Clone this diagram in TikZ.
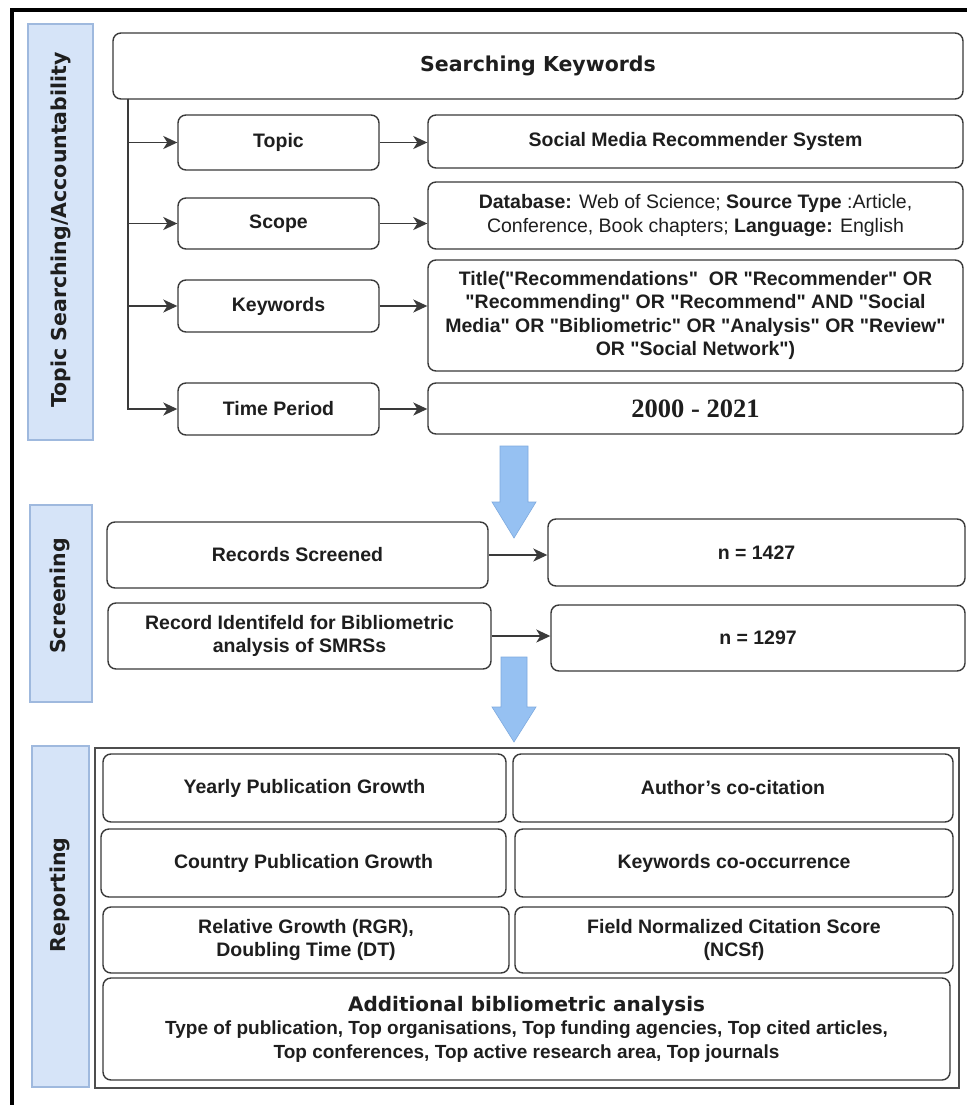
\documentclass[tikz,border=0pt]{standalone}
\usepackage{fontspec}
\setmainfont{Liberation Sans}[Ligatures=TeXOff]
\newfontfamily\dejavu{DejaVu Sans}
\newfontfamily\timesf{Liberation Serif}
\usetikzlibrary{arrows.meta}
\definecolor{sidefill}{HTML}{D6E4F8}
\definecolor{sideborder}{HTML}{9FB9DE}
\definecolor{arrowblue}{HTML}{96C1F2}
\definecolor{arrowborder}{HTML}{7EAADF}
\definecolor{boxline}{HTML}{3A3A3A}
\definecolor{txt}{HTML}{1E1E1E}
% #1 extra options, #2 name, #3 x1, #4 y1, #5 x2, #6 y2, #7 text
\newcommand\rbx[7][]{%
  \node[rbox,minimum width={(#5-#3)*1pt},minimum height={(#6-#4)*1pt},#1] (#2) at ({(#3+#5)/2},{(#4+#6)/2}) {#7};}
\newcommand\sbx[5]{%
  \node[side,minimum width={(#4-#2)*1pt},minimum height={(#5-#3)*1pt}] (#1) at ({(#2+#4)/2},{(#3+#5)/2}) {};}
\tikzset{
 rbox/.style={draw=boxline, line width=1.4pt, rounded corners=8pt, fill=white, inner sep=0pt,
   align=center, text=txt, font=\bfseries\fontsize{19.5}{23.5}\selectfont},
 side/.style={draw=sideborder, fill=sidefill, line width=1.2pt, inner sep=0pt},
 sidetext/.style={rotate=90, text=txt, font=\dejavu\bfseries\fontsize{20.5}{20.5}\selectfont},
 con/.style={draw=boxline, line width=1.6pt, arrows={-Stealth[length=14pt,width=13pt,inset=4pt]}},
 bigarrow/.style={fill=arrowblue, draw=arrowborder, line width=0.6pt}
}
\begin{document}
\begin{tikzpicture}[x=1pt,y=-1pt]
\useasboundingbox (0,0) rectangle (967,1105);
\fill[white] (0,0) rectangle (967,1105);
% outer frame (top and left only)
\draw[line width=4.5pt, black] (12,1105) -- (12,10) -- (967,10);

% sidebars
\sbx{s1}{28}{24}{93}{440}
\node[sidetext] (s1t) at (61,230) {Topic Searching/Accountability};
\sbx{s2}{30}{505}{92}{702}
\node[sidetext] (s2t) at (60,596) {Screening};
\sbx{s3}{32}{746}{89}{1087}
\node[sidetext] (s3t) at (60,895) {Reporting};

% Searching keywords
\rbx[font=\dejavu\bfseries\fontsize{20.5}{24}\selectfont]{sk}{113}{33}{963}{99}{Searching Keywords}

% left column
\rbx{tl}{178}{115}{379}{170}{Topic}
\rbx{sl}{178}{198}{379}{249}{Scope}
\rbx{kl}{178}{280}{379}{332}{Keywords}
\rbx{pl}{178}{383}{379}{435}{Time Period}

% right column
\rbx{tr}{428}{115}{963}{168}{Social Media Recommender System}
\rbx{sr}{428}{182}{963}{249}{Database: {\mdseries Web of Science;} Source Type {\mdseries :Article,}\\{\mdseries Conference, Book chapters;} Language: {\mdseries English}}
\rbx{kr}{428}{260}{963}{371}{Title("Recommendations"\ \ OR "Recommender" OR\\"Recommending" OR "Recommend" AND "Social\\Media" OR "Bibliometric" OR "Analysis" OR "Review"\\OR "Social Network")}
\rbx[font=\timesf\bfseries\fontsize{26.5}{28}\selectfont]{pr}{428}{383}{963}{434}{2000 - 2021}

% tree connectors
\coordinate (trunk) at (128,99);
\draw[con] (trunk) |- (tl.west);
\draw[con] (trunk) |- (sl.west);
\draw[con] (trunk) |- (kl.west);
\draw[con] (trunk) |- (pl.west);
\draw[con] (tl.east) -- (tl.east -| tr.west);
\draw[con] (sl.east) -- (sl.east -| sr.west);
\draw[con] (kl.east) -- (kl.east -| kr.west);
\draw[con] (pl.east) -- (pl.east -| pr.west);

% big arrow 1
\draw[bigarrow] (500,446) -- (528,446) -- (528,502) -- (536,502) -- (514,538) -- (492,502) -- (500,502) -- cycle;

% screening
\rbx{rs}{107}{522}{488}{588}{Records Screened}
\rbx{ri}{108}{603}{491}{669}{Record Identifeld for Bibliometric\\analysis of SMRSs}
\rbx{n1}{548}{519}{965}{586}{n = 1427}
\rbx{n2}{551}{605}{965}{671}{n = 1297}
\draw[con] (rs.east) -- (rs.east -| n1.west);
\draw[con] (ri.east) -- (ri.east -| n2.west);

% big arrow 2
\draw[bigarrow] (501,657) -- (527,657) -- (527,707) -- (536,707) -- (514,742) -- (492,707) -- (501,707) -- cycle;

% reporting
\node[draw=boxline!90, line width=2pt, inner sep=0pt, minimum width=864pt, minimum height=340pt] (rep) at (527,918) {};
\rbx{r11}{103}{754}{506}{822}{Yearly Publication Growth}
\rbx{r12}{513}{754}{953}{822}{Author’s co-citation}
\rbx{r21}{101}{829}{506}{897}{Country Publication Growth}
\rbx{r22}{515}{829}{953}{897}{Keywords co-occurrence}
\rbx{r31}{103}{907}{509}{973}{Relative Growth (RGR),\\Doubling Time (DT)}
\rbx{r32}{515}{907}{953}{973}{Field Normalized Citation Score\\(NCSf)}
\rbx[font=\bfseries\fontsize{19}{23.5}\selectfont]{r4}{103}{978}{950}{1080}{{\dejavu\fontsize{20}{24}\selectfont Additional bibliometric analysis}\\[0pt]
  Type of publication, Top organisations, Top funding agencies, Top cited articles,\\
  Top conferences, Top active research area, Top journals}
\end{tikzpicture}
\end{document}
